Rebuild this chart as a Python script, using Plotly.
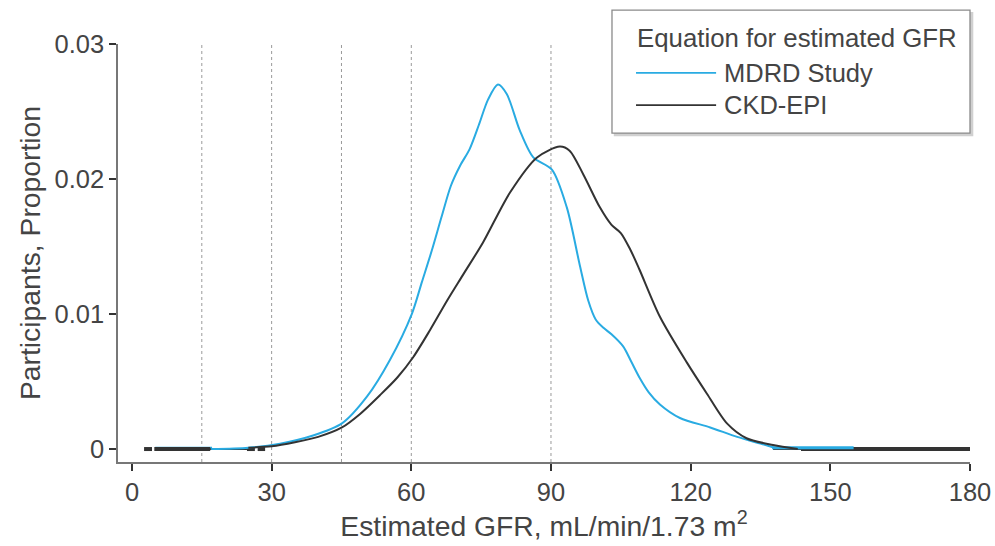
import plotly.graph_objects as go

# Density curves
mdrd_x = [17, 25, 31.8, 38.9, 45.1, 50.5, 55.4, 60.1, 62.3, 64.4, 66.5, 68.5, 70.5, 72.5, 74.5, 76.5,
          78.6, 80.5, 83.3, 86.2, 90.2, 93.4, 96.2, 98, 99.6, 101.2, 103, 105.5, 107.2, 109, 111,
          113.4, 117.7, 124.2, 130, 135, 138]
mdrd_y = [0.0, 0.0001, 0.0004, 0.0010, 0.0019, 0.0039, 0.0066, 0.0100, 0.0124, 0.0147, 0.0172,
          0.0195, 0.0210, 0.0222, 0.0240, 0.0259, 0.0270, 0.0263, 0.0236, 0.0216, 0.0207, 0.0179,
          0.0136, 0.0110, 0.0096, 0.0090, 0.0085, 0.0076, 0.0065, 0.0053, 0.0042, 0.0033, 0.0023,
          0.0016, 0.0009, 0.0004, 0.0001]

ckd_x = [25, 30, 35, 40, 45.1, 49, 53.3, 57, 60.4, 64, 67.7, 71.1, 75.4, 81.2, 87, 91.9, 94, 97,
         100.5, 103, 105, 107, 109, 113.4, 119.2, 123.5, 127.8, 132, 137.7, 143]
ckd_y = [0.0001, 0.0002, 0.0005, 0.0009, 0.0016, 0.0026, 0.0040, 0.0053, 0.0068, 0.0088, 0.0110,
         0.0129, 0.0153, 0.0190, 0.0216, 0.0224, 0.0221, 0.0203, 0.0179, 0.0166, 0.0160, 0.0148,
         0.0133, 0.0098, 0.0064, 0.0041, 0.0019, 0.0008, 0.0003, 0.0]

# Rug (observation ranges at the base)
ckd_rug = [(2.6, 4.3), (4.8, 16.8), (16.8, 24.7), (24.7, 26.4), (27, 28.6), (137.7, 143.7), (143.7, 180)]
ckd_rug_w = [4, 4, 1.8, 4, 4, 1.8, 4]
mdrd_rug_left = [(5, 17.2)]
mdrd_rug_right = [(137.5, 155)]

ref_lines = [15, 30, 45, 60, 90]
x_ticks = [0, 30, 60, 90, 120, 150, 180]
y_ticks = [0, 0.01, 0.02, 0.03]
y_tick_text = ["0", "0.01", "0.02", "0.03"]

series_names = ["MDRD Study", "CKD-EPI"]
legend_title = "Equation for estimated GFR"

BLUE = "#29abe2"
BLACK = "#333333"
TXT = "#444444"
FONT = "Liberation Sans"

fig = go.Figure()

for v in ref_lines:
    fig.add_trace(go.Scatter(x=[v, v], y=[-0.00096, 0.03], mode="lines",
                             line=dict(color="#9a9a9a", width=1, dash="dot"),
                             showlegend=False, hoverinfo="skip"))

for a, b in mdrd_rug_left:
    fig.add_trace(go.Scatter(x=[a, b], y=[0.00005, 0.00005], mode="lines",
                             line=dict(color=BLUE, width=3), showlegend=False, hoverinfo="skip"))
for (a, b), w in zip(ckd_rug, ckd_rug_w):
    fig.add_trace(go.Scatter(x=[a, b], y=[0, 0], mode="lines",
                             line=dict(color=BLACK, width=w), showlegend=False, hoverinfo="skip"))
for a, b in mdrd_rug_right:
    fig.add_trace(go.Scatter(x=[a, b], y=[0.0001, 0.0001], mode="lines",
                             line=dict(color=BLUE, width=3), showlegend=False, hoverinfo="skip"))

fig.add_trace(go.Scatter(x=mdrd_x, y=mdrd_y, mode="lines", name=series_names[0],
                         line=dict(color=BLUE, width=2, shape="spline", smoothing=0.8),
                         showlegend=False))
fig.add_trace(go.Scatter(x=ckd_x, y=ckd_y, mode="lines", name=series_names[1],
                         line=dict(color=BLACK, width=2, shape="spline", smoothing=0.8),
                         showlegend=False))

# Manual legend box (paper coordinates)
L, R_, B, T = 0.5798, 1.0, 0.787, 1.081
fig.add_shape(type="rect", xref="paper", yref="paper", x0=L + 0.003, x1=R_ + 0.003,
              y0=B - 0.006, y1=T - 0.006, line=dict(color="#d0d0d0", width=1.5), fillcolor="#d0d0d0",
              layer="above")
fig.add_shape(type="rect", xref="paper", yref="paper", x0=L, x1=R_, y0=B, y1=T,
              line=dict(color="#8a8a8a", width=1.3), fillcolor="white", layer="above")
fig.add_annotation(xref="paper", yref="paper", x=0.607, y=1.014, text=legend_title,
                   showarrow=False, xanchor="left", yanchor="middle",
                   font=dict(size=25.8, color=TXT, family=FONT))
for i, (nm, col) in enumerate(zip(series_names, [BLUE, BLACK])):
    yy = 0.931 - i * 0.077
    fig.add_shape(type="line", xref="paper", yref="paper", x0=0.6080, x1=0.7020, y0=yy, y1=yy,
                  line=dict(color=col, width=1.8), layer="above")
    fig.add_annotation(xref="paper", yref="paper", x=0.7085, y=yy, text=nm,
                       showarrow=False, xanchor="left", yanchor="middle",
                       font=dict(size=25.5, color=TXT, family=FONT))

fig.update_layout(
    width=995, height=546,
    margin=dict(l=118, r=25, t=44, b=84, autoexpand=False),
    paper_bgcolor="white", plot_bgcolor="white",
    font=dict(family=FONT, size=25, color=TXT),
    showlegend=False,
    xaxis=dict(
        range=[-3, 180], tickmode="array", tickvals=x_ticks,
        ticks="outside", ticklen=7, tickwidth=2, tickcolor=BLACK,
        tickfont=dict(size=25.5),
        showline=True, linecolor="#777777", linewidth=1.5,
        showgrid=False, zeroline=False,
        title=dict(text="Estimated GFR, mL/min/1.73 m<sup>2</sup>", standoff=2, font=dict(size=28.3)),
    ),
    yaxis=dict(
        range=[-0.00096, 0.03], tickmode="array", tickvals=y_ticks, ticktext=y_tick_text,
        ticks="outside", ticklen=7, tickwidth=2, tickcolor=BLACK,
        tickfont=dict(size=25.5),
        showline=True, linecolor="#777777", linewidth=1.5,
        showgrid=False, zeroline=False,
        title=dict(text="Participants, Proportion", standoff=6, font=dict(size=28.3)),
    ),
)

fig.write_html("out.html", config={"displayModeBar": False},
               post_script="document.body.style.margin='0px';")
